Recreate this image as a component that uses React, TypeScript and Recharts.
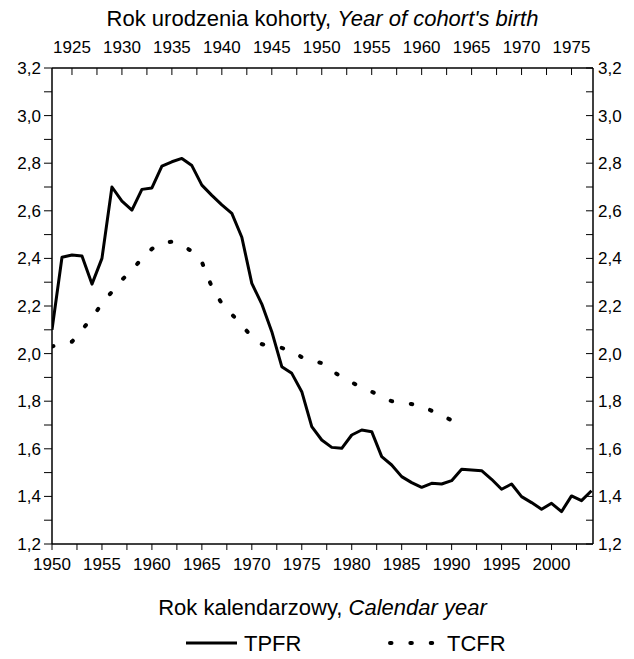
import React from 'react'
import { LineChart, Line, XAxis, YAxis } from 'recharts'

// calendar years of the period series
const years = [
  1950, 1951, 1952, 1953, 1954, 1955, 1956, 1957, 1958, 1959,
  1960, 1961, 1962, 1963, 1964, 1965, 1966, 1967, 1968, 1969,
  1970, 1971, 1972, 1973, 1974, 1975, 1976, 1977, 1978, 1979,
  1980, 1981, 1982, 1983, 1984, 1985, 1986, 1987, 1988, 1989,
  1990, 1991, 1992, 1993, 1994, 1995, 1996, 1997, 1998, 1999,
  2000, 2001, 2002, 2003, 2004,
]

const tpfr = [
  2.1, 2.405, 2.414, 2.41, 2.292, 2.4, 2.7, 2.641, 2.603, 2.69,
  2.696, 2.788, 2.806, 2.82, 2.79, 2.708, 2.665, 2.625, 2.589, 2.489,
  2.295, 2.208, 2.092, 1.945, 1.917, 1.84, 1.693, 1.637, 1.606, 1.602,
  1.658, 1.679, 1.672, 1.567, 1.532, 1.483, 1.458, 1.438, 1.455, 1.452,
  1.466, 1.514, 1.511, 1.508, 1.472, 1.43, 1.452, 1.399, 1.374, 1.346,
  1.371, 1.336, 1.402, 1.382, 1.424,
]

// birth cohorts (top axis), shifted 27 years against the calendar axis
const cohortOffset = 27
const cohorts = [
  1923, 1924, 1925, 1926, 1927, 1928, 1929, 1930, 1931, 1932,
  1933, 1934, 1935, 1936, 1937, 1938, 1939, 1940, 1941, 1942,
  1943, 1944, 1945, 1946, 1947, 1948, 1949, 1950, 1951, 1952,
  1953, 1954, 1955, 1956, 1957, 1958, 1959, 1960, 1961, 1962,
  1963,
]

const tcfr = [
  2.03, 2.04, 2.05, 2.1, 2.15, 2.21, 2.26, 2.31, 2.35, 2.4,
  2.44, 2.465, 2.47, 2.455, 2.43, 2.385, 2.28, 2.21, 2.165, 2.12,
  2.07, 2.04, 2.028, 2.024, 2.01, 1.985, 1.97, 1.96, 1.93, 1.9,
  1.88, 1.855, 1.84, 1.82, 1.8, 1.792, 1.788, 1.78, 1.76, 1.74,
  1.72,
]

const yearTicks = [
  1950, 1952.5, 1955, 1957.5, 1960, 1962.5, 1965, 1967.5, 1970, 1972.5,
  1975, 1977.5, 1980, 1982.5, 1985, 1987.5, 1990, 1992.5, 1995, 1997.5,
  2000, 2002.5,
]

const cohortTicks = [
  1925, 1927.5, 1930, 1932.5, 1935, 1937.5, 1940, 1942.5, 1945, 1947.5,
  1950, 1952.5, 1955, 1957.5, 1960, 1962.5, 1965, 1967.5, 1970, 1972.5,
  1975,
]

const rateTicks = [
  1.2, 1.3, 1.4, 1.5, 1.6, 1.7, 1.8, 1.9, 2.0, 2.1, 2.2,
  2.3, 2.4, 2.5, 2.6, 2.7, 2.8, 2.9, 3.0, 3.1, 3.2,
]

const data = years.map((year, i) => {
  const cohort = year - cohortOffset
  const c = cohorts.indexOf(cohort)
  return { year, cohort, tpfr: tpfr[i], tcfr: c >= 0 ? tcfr[c] : undefined }
})

const FONT = '"Liberation Sans", Arial, sans-serif'
const W = 634
const H = 659
const DOTS = '1.5 18.85'

const yearLabel = (v: number) => (v % 5 === 0 ? String(v) : '')
const rateLabel = (v: number) =>
  Math.round(v * 10) % 2 === 0 ? v.toFixed(1).replace('.', ',') : ''

const tickStyle = { fill: '#000', fontSize: 17, fontFamily: FONT }
const axisStyle = { stroke: '#000', strokeWidth: 1.5 }

const renderTopTitle = (props: any) => {
  const vb = props.viewBox || { x: 52, y: 0, width: 541 }
  return (
    <text x={vb.x + vb.width / 2} y={vb.y + 26} textAnchor="middle" fontSize={22} fontFamily={FONT} fill="#000">
      <tspan>Rok urodzenia kohorty, </tspan>
      <tspan fontStyle="italic">Year of cohort's birth</tspan>
    </text>
  )
}

const renderBottomTitle = (props: any) => {
  const vb = props.viewBox || { x: 52, y: 544, width: 541 }
  return (
    <text x={vb.x + vb.width / 2} y={vb.y + 71} textAnchor="middle" fontSize={22} fontFamily={FONT} fill="#000">
      <tspan>Rok kalendarzowy, </tspan>
      <tspan fontStyle="italic">Calendar year</tspan>
    </text>
  )
}

const LegendBox = () => (
  <div style={{ position: 'absolute', left: 0, top: 622, width: W, height: 37 }}>
    <svg width={W} height={37}>
      <line x1={186} x2={237} y1={21} y2={21} stroke="#000" strokeWidth={3} />
      <text x={244} y={29} fontSize={22} fontFamily={FONT} fill="#000">TPFR</text>
      <line x1={390} x2={433} y1={21} y2={21} stroke="#000" strokeWidth={4} strokeDasharray={DOTS} strokeLinecap="round" />
      <text x={447} y={29} fontSize={22} fontFamily={FONT} fill="#000">TCFR</text>
    </svg>
  </div>
)

export default function App() {
  return (
    <div style={{ position: 'relative', width: W, height: H, background: '#fff' }}>
      <style>{'body{margin:0}'}</style>
      <LineChart width={W} height={H} data={data} margin={{ top: 0, right: 0, bottom: 0, left: 0 }}>
        <XAxis
          xAxisId="year"
          dataKey="year"
          type="number"
          domain={[1950, 2004.15]}
          allowDataOverflow
          ticks={yearTicks}
          interval={0}
          tickFormatter={yearLabel}
          height={115}
          tickSize={6}
          tickMargin={8}
          tick={tickStyle}
          axisLine={axisStyle}
          tickLine={{ stroke: '#000' }}
          label={renderBottomTitle}
        />
        <XAxis
          xAxisId="cohort"
          dataKey="cohort"
          orientation="top"
          type="number"
          domain={[1923, 1977.15]}
          allowDataOverflow
          ticks={cohortTicks}
          interval={0}
          tickFormatter={yearLabel}
          height={68}
          tickSize={-7}
          tickMargin={22}
          tick={tickStyle}
          axisLine={axisStyle}
          tickLine={{ stroke: '#000' }}
          label={renderTopTitle}
        />
        <YAxis
          yAxisId="left"
          type="number"
          domain={[1.2, 3.2]}
          allowDataOverflow
          ticks={rateTicks}
          interval={0}
          tickFormatter={rateLabel}
          width={52}
          tickSize={8}
          tickMargin={3}
          tick={tickStyle}
          axisLine={axisStyle}
          tickLine={{ stroke: '#000' }}
        />
        <YAxis
          yAxisId="right"
          orientation="right"
          type="number"
          domain={[1.2, 3.2]}
          allowDataOverflow
          ticks={rateTicks}
          interval={0}
          tickFormatter={rateLabel}
          width={41}
          tickSize={-7}
          tickMargin={12}
          tick={tickStyle}
          axisLine={axisStyle}
          tickLine={{ stroke: '#000' }}
        />
        <Line
          xAxisId="year"
          yAxisId="left"
          type="linear"
          dataKey="tpfr"
          stroke="#000"
          strokeWidth={3}
          strokeLinejoin="round"
          dot={false}
          isAnimationActive={false}
        />
        <Line
          xAxisId="cohort"
          yAxisId="left"
          type="linear"
          dataKey="tcfr"
          stroke="#000"
          strokeWidth={4}
          strokeDasharray={DOTS}
          strokeLinecap="round"
          dot={false}
          isAnimationActive={false}
        />
      </LineChart>
      <LegendBox />
    </div>
  )
}
